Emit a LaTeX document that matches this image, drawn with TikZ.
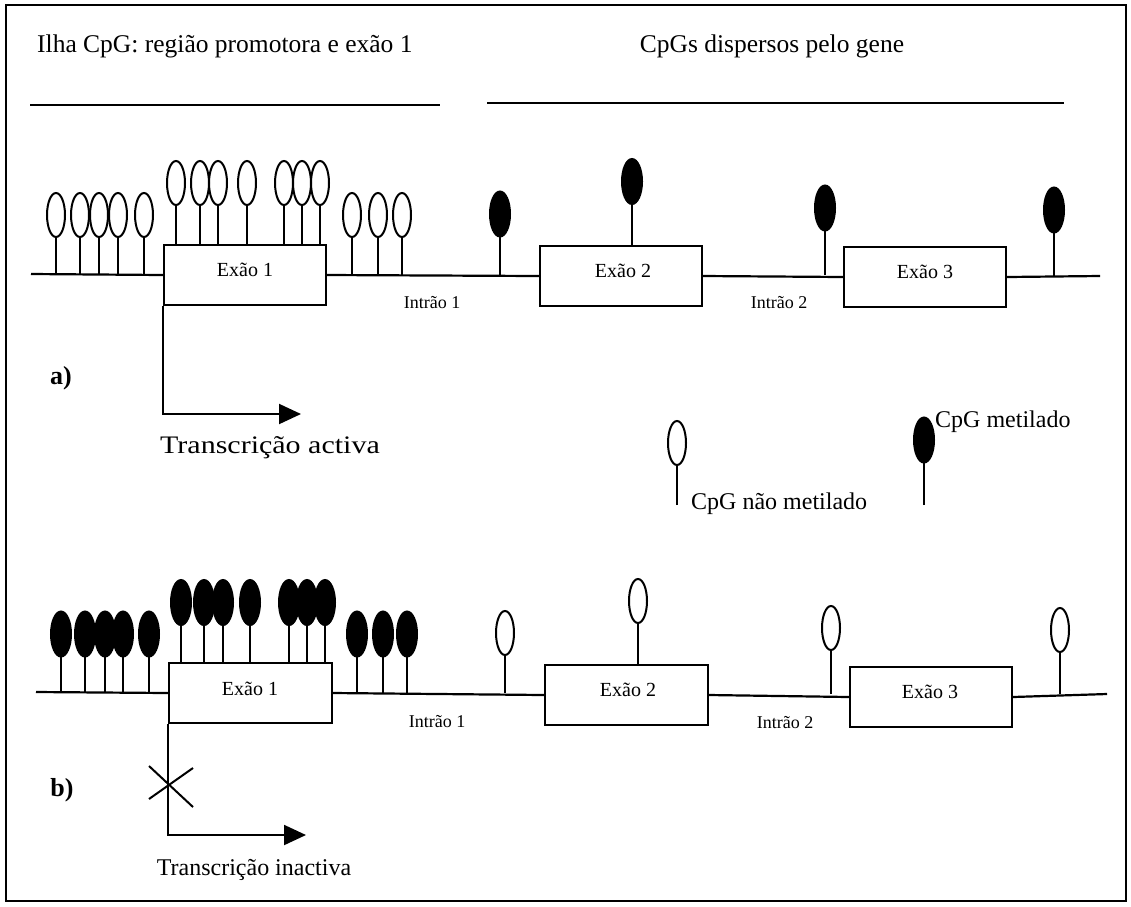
\documentclass[tikz,border=0pt]{standalone}
\usepackage{fontspec}
\setmainfont{Liberation Serif}
\usetikzlibrary{arrows.meta}
\tikzset{
  frame/.style={draw, line width=2pt},
  hline/.style={line width=2.6pt},
  base/.style={line width=2.2pt},
  stem/.style={line width=1.6pt},
  pop/.style={line width=2pt},
  exon/.style={draw, line width=2pt, inner sep=0pt, minimum width=162pt, minimum height=60pt},
  hdr/.style={inner sep=0pt, font=\fontsize{25.5}{30}\selectfont},
  exlbl/.style={inner sep=0pt, font=\fontsize{20}{23}\selectfont},
  intr/.style={inner sep=0pt, font=\fontsize{18}{21}\selectfont},
  trlbl/.style={inner sep=0pt, font=\fontsize{24}{28}\selectfont},
  part/.style={inner sep=0pt, font=\fontsize{26}{30}\selectfont\bfseries},
  leg/.style={inner sep=0pt, font=\fontsize{24}{28}\selectfont},
  trarrow/.style={line width=2pt, -{Triangle[length=22pt,width=20pt]}},
  cross/.style={line width=2pt}
}
% open CpG: x, base y, ellipse centre y
\newcommand\CpGo[3]{%
  \draw[stem] (#1,#2) -- (#1,#3+22);
  \draw[pop] (#1,#3) ellipse [x radius=9pt, y radius=22pt];}
% methylated CpG
\newcommand\CpGf[3]{%
  \draw[stem] (#1,#2) -- (#1,#3+22);
  \draw[pop, fill=black] (#1,#3) ellipse [x radius=10pt, y radius=22.5pt];}
\begin{document}
\begin{tikzpicture}[x=1pt, y=-1pt]
\useasboundingbox (0,0) rectangle (1131,906);
\draw[frame] (6,5) rectangle (1126,901);

% headers
\node[hdr, anchor=west] (h1) at (37,46) {Ilha CpG: região promotora e exão 1};
\node[hdr] (h2) at (772,46) {CpGs dispersos pelo gene};
\coordinate (l1a) at (30,105); \coordinate (l1b) at (440,105);
\coordinate (l2a) at (487,103); \coordinate (l2b) at (1064,103);
\draw[hline] (l1a) -- (l1b);
\draw[hline] (l2a) -- (l2b);

% ---------- row a ----------
\coordinate (sa) at (31,274);
\coordinate (ea) at (1100,276);
\node[exon] (e1a) at (245,275) {};
\node[exon] (e2a) at (621,276) {};
\node[exon] (e3a) at (925,277) {};
\draw[base] (sa) -- (e1a.west);
\draw[base] (e1a.east) -- (e2a.west);
\draw[base] (e2a.east) -- (e3a.west);
\draw[base] (e3a.east) -- (ea);
\node[exlbl] (x1a) at (245,270) {Exão 1};
\node[exlbl] (x2a) at (623,271) {Exão 2};
\node[exlbl] (x3a) at (925,272) {Exão 3};
\node[intr] (i1a) at (432,303) {Intrão 1};
\node[intr] (i2a) at (779,303) {Intrão 2};

\foreach \x in {56,80,99,118,144} {\CpGo{\x}{274}{215}}
\foreach \x in {176,200,218,247,284,302,320} {\CpGo{\x}{245}{183}}
\foreach \x in {352,378,402} {\CpGo{\x}{275}{215}}
\CpGf{500}{275}{214}
\CpGf{632}{246}{181.5}
\CpGf{825}{275}{208}
\CpGf{1054}{276}{210}

\coordinate (tipa) at (301,414);
\draw[trarrow] (e1a.south west) |- (tipa);
\node[trlbl] (tra) at (270,448) {\scalebox{1.25}[1.05]{Transcrição activa}};
\node[part] (pa) at (61,378) {a)};

% legend
\CpGo{677}{505}{443}
\node[leg, anchor=west] (lego) at (691,504) {CpG não metilado};
\CpGf{924}{505}{440}
\node[leg, anchor=west] (legf) at (935,422) {CpG metilado};

% ---------- row b ----------
\coordinate (sb) at (36,692);
\coordinate (eb) at (1107,694);
\node[exon, minimum width=163pt] (e1b) at (250.5,693) {};
\node[exon, minimum width=163pt] (e2b) at (626.5,695) {};
\node[exon] (e3b) at (931,697) {};
\draw[base] (sb) -- (e1b.west);
\draw[base] (e1b.east) -- (e2b.west);
\draw[base] (e2b.east) -- (e3b.west);
\draw[base] (e3b.east) -- (eb);
\node[exlbl] (x1b) at (250,689) {Exão 1};
\node[exlbl] (x2b) at (628,690) {Exão 2};
\node[exlbl] (x3b) at (930,692) {Exão 3};
\node[intr] (i1b) at (437,722) {Intrão 1};
\node[intr] (i2b) at (785,723) {Intrão 2};

\foreach \x in {61,85,105,123,149} {\CpGf{\x}{692}{634}}
\foreach \x in {181,204,223,250,289,307,325} {\CpGf{\x}{663}{602.5}}
\foreach \x in {357,383,407} {\CpGf{\x}{694}{634}}
\CpGo{505}{693}{633}
\CpGo{638}{665}{601}
\CpGo{831}{694}{628}
\CpGo{1060}{694}{630}

\coordinate (tipb) at (306,835);
\draw[trarrow] (e1b.south west) |- (tipb);
\coordinate (xa1) at (149,766); \coordinate (xa2) at (193,807);
\coordinate (xb1) at (149,799); \coordinate (xb2) at (193,768);
\draw[cross] (xa1) -- (xa2);
\draw[cross] (xb1) -- (xb2);
\node[trlbl] (trb) at (254,870) {Transcrição inactiva};
\node[part] (pb) at (62,790) {b)};
\end{tikzpicture}
\end{document}
